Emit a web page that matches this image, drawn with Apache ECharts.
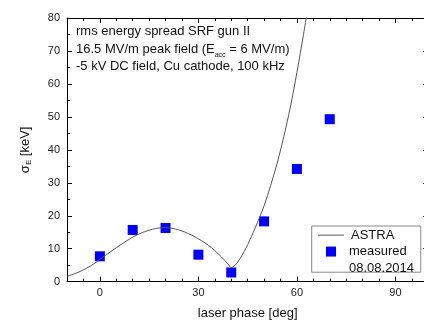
<!DOCTYPE html>
<html>
<head>
<meta charset="utf-8">
<script src="https://cdn.jsdelivr.net/npm/echarts@6/dist/echarts.min.js"></script>
<style>
html,body{margin:0;padding:0;background:#fff;}
#c{width:424px;height:321px;}
</style>
</head>
<body>
<div id="c"></div>
<script>
// ASTRA simulation curve (laser phase in deg, sigma_E in keV)
const astraPhase = [-10, -8, -6, -4, -2, 0, 2, 4, 6, 8, 10, 12, 14, 16, 18, 20, 22, 24, 26, 28, 30, 32, 34, 36, 38, 39, 40, 41, 42, 44, 46, 48, 50, 52, 54, 56, 58, 60, 62, 64];
const astraSigma = [1.6, 2.3, 3.1, 4.1, 5.3, 6.8, 8.2, 9.6, 11.0, 12.3, 13.5, 14.5, 15.3, 15.9, 16.3, 16.4, 16.2, 15.7, 15.0, 14.1, 13.0, 11.8, 10.3, 8.5, 6.5, 5.4, 4.3, 4.8, 6.0, 9.2, 13.4, 18.0, 23.0, 29.2, 36.0, 44.0, 53.0, 63.5, 75.0, 87.0];
// measured 08.08.2014
const measPhase = [0, 10, 20, 30, 40, 50, 60, 70];
const measSigma = [7.7, 15.7, 16.3, 8.2, 2.8, 18.3, 34.2, 49.3];
// tick labels
const xTickValues = [0, 30, 60, 90];
const yTickValues = [0, 10, 20, 30, 40, 50, 60, 70, 80];

const FONT = "'Liberation Sans', Arial, sans-serif";
const zip = (a, b) => a.map((v, i) => [v, b[i]]);

const chart = echarts.init(document.getElementById('c'), null, {renderer: 'canvas'});

const xBase = {type: 'value', min: -10, max: 100, splitLine: {show: false}};
const yBase = {type: 'value', min: 0, max: 80, interval: 10, splitLine: {show: false}};
const lineBlack = {onZero: false, lineStyle: {color: '#000', width: 1}};

chart.setOption({
  animation: false,
  backgroundColor: '#fff',
  textStyle: {fontFamily: FONT},
  grid: {left: 67, top: 18, right: -4.3, bottom: 39.3, containLabel: false, outerBoundsMode: 'none'},
  title: {
    left: 76, top: 23, padding: 0,
    text: 'rms energy spread SRF gun II\n16.5 MV/m peak field (E{sub|acc} = 6 MV/m)\n-5 kV DC field, Cu cathode, 100 kHz',
    textStyle: {
      fontFamily: FONT, fontSize: 13, fontWeight: 'normal', color: '#111', lineHeight: 17.5,
      rich: {
        sub: {fontFamily: FONT, fontSize: 7, color: '#111', verticalAlign: 'bottom', lineHeight: 17.5, padding: [0, 0, -1, 0]}
      }
    }
  },
  legend: {
    orient: 'vertical', left: 311.7, top: 226,
    padding: [0.5, 6.7, -4.4, 6.3],
    itemGap: -17, itemWidth: 26, itemHeight: 10,
    borderColor: '#888', borderWidth: 1, backgroundColor: '#fff',
    textStyle: {fontFamily: FONT, fontSize: 13, color: '#111', lineHeight: 16.7},
    formatter: n => n === 'measured' ? ' \nmeasured\n08.08.2014' : n,
    data: [
      {name: 'ASTRA', icon: 'path://M0,0H26V1H0Z', textStyle: {padding: [0, 0, 0, 2]}},
      {name: 'measured', icon: 'path://M0,0H10V10H0Z'}
    ]
  },
  xAxis: [
    Object.assign({}, xBase, {
      position: 'bottom',
      name: 'laser phase [deg]', nameLocation: 'middle', nameGap: 25,
      nameTextStyle: {fontFamily: FONT, fontSize: 13, color: '#111'},
      axisLine: lineBlack,
      axisTick: {inside: true, length: 5, customValues: xTickValues, lineStyle: {color: '#000'}},
      axisLabel: {customValues: xTickValues, margin: 6, fontSize: 11, color: '#222', fontFamily: FONT}
    }),
    Object.assign({}, xBase, {
      position: 'bottom', interval: 5,
      axisLine: {show: false, onZero: false},
      axisTick: {inside: true, length: 3, lineStyle: {color: '#000'}},
      axisLabel: {show: false}
    }),
    Object.assign({}, xBase, {
      position: 'top',
      axisLine: lineBlack,
      axisTick: {inside: true, length: 5, customValues: xTickValues, lineStyle: {color: '#000'}},
      axisLabel: {show: false}
    }),
    Object.assign({}, xBase, {
      position: 'top', interval: 5,
      axisLine: {show: false, onZero: false},
      axisTick: {inside: true, length: 3, lineStyle: {color: '#000'}},
      axisLabel: {show: false}
    })
  ],
  yAxis: [
    Object.assign({}, yBase, {
      position: 'left',
      name: 'σ{sub|E} [keV]', nameLocation: 'middle', nameGap: 34, nameRotate: 90,
      nameTextStyle: {
        fontFamily: FONT, fontSize: 13, color: '#111', lineHeight: 16,
        rich: {sub: {fontFamily: FONT, fontSize: 8, color: '#111', verticalAlign: 'bottom', lineHeight: 16}}
      },
      axisLine: lineBlack,
      axisTick: {inside: true, length: 5, lineStyle: {color: '#000'}},
      minorTick: {show: true, splitNumber: 2, length: 3, lineStyle: {color: '#000'}},
      axisLabel: {customValues: yTickValues, margin: 7, fontSize: 11, color: '#222', fontFamily: FONT}
    }),
    Object.assign({}, yBase, {
      position: 'right',
      axisLine: lineBlack,
      axisTick: {inside: true, length: 5, lineStyle: {color: '#000'}},
      minorTick: {show: true, splitNumber: 2, length: 3, lineStyle: {color: '#000'}},
      axisLabel: {show: false}
    })
  ],
  series: [
    {
      name: 'ASTRA', type: 'line', xAxisIndex: 0, yAxisIndex: 0,
      data: zip(astraPhase, astraSigma),
      symbol: 'none', smooth: 0.35, clip: true,
      lineStyle: {color: '#555', width: 1},
      itemStyle: {color: '#555'}
    },
    {
      name: 'measured', type: 'scatter', xAxisIndex: 0, yAxisIndex: 0,
      data: zip(measPhase, measSigma),
      symbol: 'rect', symbolSize: 10,
      itemStyle: {color: '#0000ff', opacity: 1}
    }
  ]
});
</script>
</body>
</html>
